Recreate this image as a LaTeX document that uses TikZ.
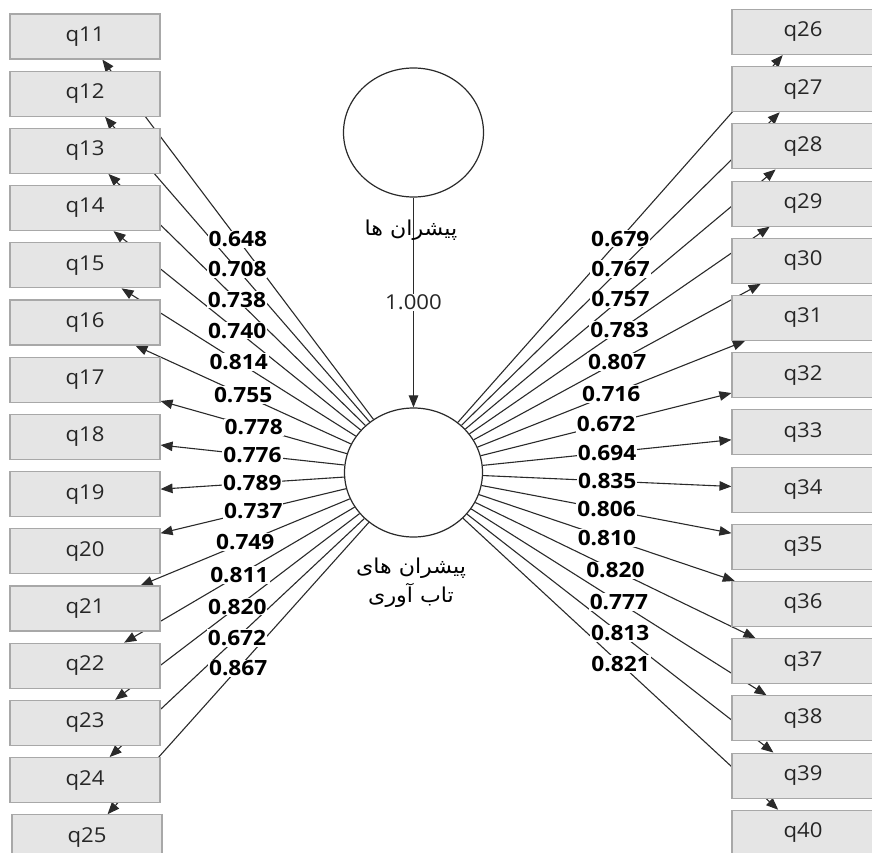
\documentclass[tikz,border=0pt]{standalone}
\usepackage{fontspec}
\usepackage{graphicx}
\setmainfont{Open Sans}
\newfontfamily\fafont[Script=Arabic]{DejaVu Sans}
\TeXXeTstate=1
\usetikzlibrary{arrows.meta,shapes.geometric}
\pgfdeclarelayer{links}
\pgfsetlayers{links,main}
\definecolor{boxfill}{HTML}{E5E5E5}
\definecolor{boxline}{HTML}{A8A8A8}
\definecolor{linkc}{HTML}{2A2A2A}
\definecolor{qtext}{HTML}{262626}
\newcommand\wide[1]{\scalebox{1.08}[1]{#1}}
\begin{document}
\begin{tikzpicture}[x=1pt,y=-1pt,
  item/.style={draw=boxline, fill=boxfill, line width=1.1pt, minimum width=150pt,
    minimum height=45pt, inner sep=0pt, font=\fontsize{20.5}{24}\selectfont, text=qtext},
  latent/.style={ellipse, draw=linkc, line width=1.2pt, fill=white, inner sep=0pt},
  link/.style={draw=linkc, line width=1.1pt, -{Triangle[length=12pt,width=9.5pt]}},
  coef/.style={fill=white, inner sep=1pt, font=\bfseries\fontsize{21}{24}\selectfont, text=black},
  fatext/.style={font={\fafont\fontsize{20.5}{29}\selectfont}, text=black, align=center}]

\useasboundingbox (0,0) rectangle (872,853);

% latent variables
\node[latent, minimum width=140pt, minimum height=129pt] (drv) at (413.5,132.5) {};
\node[latent, minimum width=138pt, minimum height=129pt] (res) at (413.5,472.5) {};

% indicator boxes
\foreach \i in {11,...,24}
  \node[item] (q\i) at (85,{36.5+57.2*(\i-11)}) {\wide{q\i}};
\node[item] (q25) at (87,837.3) {\wide{q25}};
\foreach \j in {26,...,40}
  \node[item, minimum width=142pt] (q\j) at (803,{32+57.2*(\j-26)}) {\wide{q\j}};

% paths under the boxes
\begin{pgfonlayer}{links}
  \foreach \i in {11,...,40}
    \draw[link] (res) -- (q\i);
  \draw[link] (drv) -- (res);
\end{pgfonlayer}

% loadings
\foreach \i/\v in {11/0.648,12/0.708,13/0.738,14/0.740,15/0.814,16/0.755,17/0.778,
  18/0.776,19/0.789,20/0.737,21/0.749,22/0.811,23/0.820,24/0.672,25/0.867,
  26/0.679,27/0.767,28/0.757,29/0.783,30/0.807,31/0.716,32/0.672,33/0.694,
  34/0.835,35/0.806,36/0.810,37/0.820,38/0.777,39/0.813,40/0.821}
  \path (res) -- node[coef, midway] (w\i) {\wide{\v}} (q\i);
\path (drv) -- node[midway, fill=white, inner sep=1pt, font=\fontsize{20.5}{24}\selectfont, text=qtext] (wpath) {\wide{1.000}} (res);

% latent variable names
\node[fatext] (drvname) at (411,230) {\wide{\beginR پیشران ها\endR}};
\node[fatext] (resname) at (411,583) {\wide{\beginR پیشران های\endR}\\\wide{\beginR تاب آوری\endR}};
\end{tikzpicture}
\end{document}
